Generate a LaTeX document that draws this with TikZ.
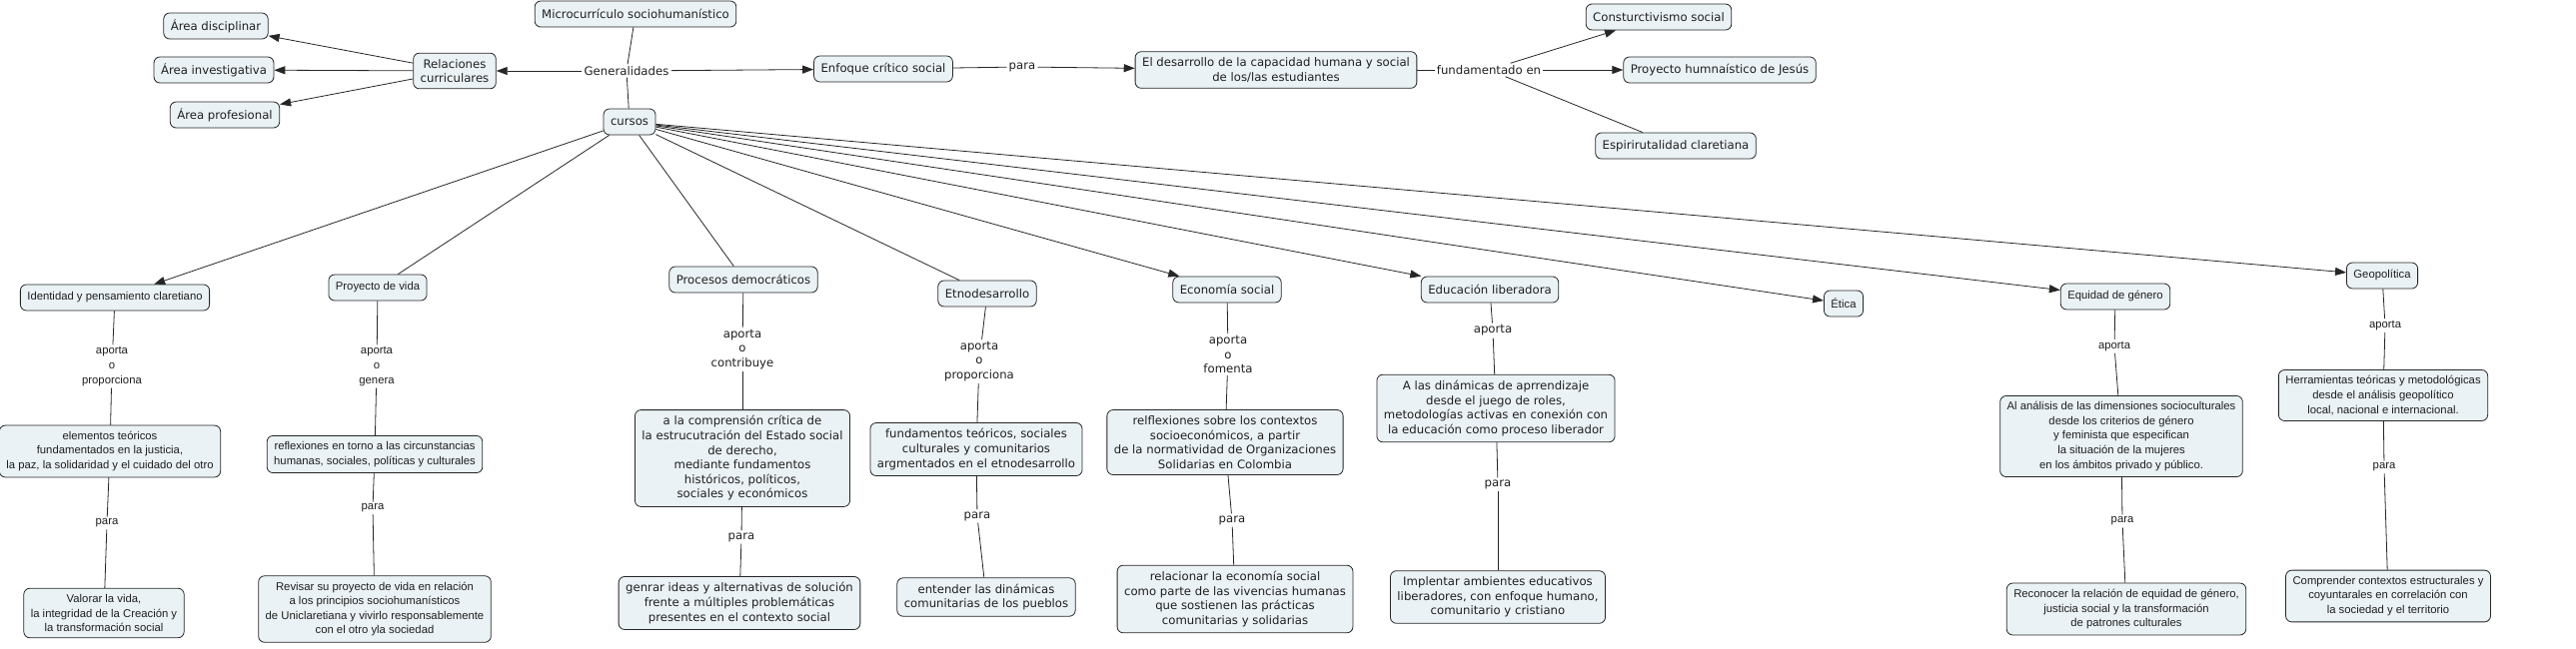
\documentclass[tikz,border=0pt]{standalone}
\usepackage{fontspec}
\setmainfont{DejaVu Sans}
\newfontfamily\angostafont{Liberation Sans}
\usetikzlibrary{arrows.meta}

\definecolor{fondo}{RGB}{235,242,245}

\tikzset{
  concepto/.style={draw=black!85, fill=fondo, rounded corners=6pt, line width=0.8pt,
    align=center, inner xsep=7pt, inner ysep=6pt, minimum height=26pt,
    text=black!88, font=\fontsize{11.7}{14.6}\selectfont},
  angosto/.style={font=\angostafont\fontsize{11.3}{14.6}\selectfont},
  enlace/.style={align=center, inner sep=2pt, text=black!88,
    font=\fontsize{11.7}{14.6}\selectfont},
  linea/.style={draw=black!85, line width=0.8pt},
  flecha/.style={linea, -{Triangle[length=11pt,width=8pt]}},
}

\begin{document}
\begin{tikzpicture}[x=1pt,y=-1pt]
    % Marco
    \useasboundingbox (0,0) rectangle (2578,649);

    % Parte superior
    \node[concepto] (micro) at (636,14) {Microcurrículo sociohumanístico};
    \node[enlace] (general) at (627,71) {Generalidades};
    \node[concepto] (relaciones) at (455,71) {Relaciones\\curriculares};
    \node[concepto] (disciplinar) at (216,26) {Área disciplinar};
    \node[concepto] (investigativa) at (214,70) {Área investigativa};
    \node[concepto] (profesional) at (225,115) {Área profesional};
    \node[concepto] (enfoque) at (884,69) {Enfoque crítico social};
    \node[enlace] (para0) at (1023,67) {para};
    \node[concepto] (desarrollo) at (1277,70) {El desarrollo de la capacidad humana y social\\de los/las estudiantes};
    \node[enlace] (fundamentado) at (1490,70) {fundamentado en};
    \node[concepto] (constru) at (1660,17) {Consturctivismo social};
    \node[concepto] (jesus) at (1721,70) {Proyecto humnaístico de Jesús};
    \node[concepto] (espiritualidad) at (1677,146) {Espirirutalidad claretiana};
    \node[concepto] (cursos) at (630,122) {cursos};

    % Cursos
    \node[concepto, angosto] (identidad) at (115,298) {Identidad y pensamiento claretiano};
    \node[concepto, angosto] (vida) at (378,288) {Proyecto de vida};
    \node[concepto] (procesos) at (744,280) {Procesos democráticos};
    \node[concepto] (etno) at (988,294) {Etnodesarrollo};
    \node[concepto] (economia) at (1228,290) {Economía social};
    \node[concepto] (educacion) at (1491,290) {Educación liberadora};
    \node[concepto, angosto] (etica) at (1845,304) {Ética};
    \node[concepto, angosto] (equidad) at (2117,297) {Equidad de género};
    \node[concepto, angosto] (geo) at (2384,276) {Geopolítica};

    % Columna 1
    \node[enlace, angosto] (ap1) at (112,367) {aporta\\o\\proporciona};
    \node[concepto, angosto] (elementos) at (110,452) {elementos teóricos\\fundamentados en la justicia,\\la paz, la solidaridad y el cuidado del otro};
    \node[enlace, angosto] (pa1) at (107,524) {para};
    \node[concepto, angosto] (valorar) at (104,614) {Valorar la vida,\\la integridad de la Creación y\\la transformación social};

    % Columna 2
    \node[enlace, angosto] (ap2) at (377,367) {aporta\\o\\genera};
    \node[concepto, angosto] (reflexiones) at (375,455) {reflexiones en torno a las circunstancias\\humanas, sociales, políticas y culturales};
    \node[enlace, angosto] (pa2) at (373,509) {para};
    \node[concepto, angosto] (revisar) at (375,610) {Revisar su proyecto de vida en relación\\a los principios sociohumanísticos\\de Uniclaretiana y vivirlo responsablemente\\con el otro yla sociedad};

    % Columna 3
    \node[enlace] (ap3) at (743,350) {aporta\\o\\contribuye};
    \node[concepto] (comprension) at (743,459) {a la comprensión crítica de\\la estrucutración del Estado social\\de derecho,\\mediante fundamentos\\históricos, políticos,\\sociales y económicos};
    \node[enlace] (pa3) at (742,538) {para};
    \node[concepto] (genrar) at (740,604) {genrar ideas y alternativas de solución\\frente a múltiples problemáticas\\presentes en el contexto social};

    % Columna 4
    \node[enlace] (ap4) at (980,362) {aporta\\o\\proporciona};
    \node[concepto] (fundamentos) at (977,450) {fundamentos teóricos, sociales\\culturales y comunitarios\\argmentados en el etnodesarrollo};
    \node[enlace] (pa4) at (978,517) {para};
    \node[concepto] (entender) at (987,598) {entender las dinámicas\\comunitarias de los pueblos};

    % Columna 5
    \node[enlace] (ap5) at (1229,355) {aporta\\o\\fomenta};
    \node[concepto] (relflexiones) at (1226,443) {relflexiones sobre los contextos\\socioeconómicos, a partir\\de la normatividad de Organizaciones\\Solidarias en Colombia};
    \node[enlace] (pa5) at (1233,521) {para};
    \node[concepto] (relacionar) at (1236,600) {relacionar la economía social\\como parte de las vivencias humanas\\que sostienen las prácticas\\comunitarias y solidarias};

    % Columna 6
    \node[enlace] (ap6) at (1494,331) {aporta};
    \node[concepto] (dinamicas) at (1497,409) {A las dinámicas de aprrendizaje\\desde el juego de roles,\\metodologías activas en conexión con\\la educación como proceso liberador};
    \node[enlace] (pa6) at (1499,485) {para};
    \node[concepto] (implentar) at (1499,598) {Implentar ambientes educativos\\liberadores, con enfoque humano,\\comunitario y cristiano};

    % Columna 7
    \node[enlace, angosto] (ap7) at (2116,347) {aporta};
    \node[concepto, angosto] (analisis) at (2123,437) {Al análisis de las dimensiones socioculturales\\desde los criterios de género\\y feminista que especifican\\la situación de la mujeres\\en los ámbitos privado y público.};
    \node[enlace, angosto] (pa7) at (2124,522) {para};
    \node[concepto, angosto] (reconocer) at (2128,610) {Reconocer la relación de equidad de género,\\justicia social y la transformación\\de patrones culturales};

    % Columna 8
    \node[enlace, angosto] (ap8) at (2387,326) {aporta};
    \node[concepto, angosto] (herramientas) at (2385,396) {Herramientas teóricas y metodológicas\\desde el análisis geopolítico\\local, nacional e internacional.};
    \node[enlace, angosto] (pa8) at (2386,468) {para};
    \node[concepto, angosto] (comprender) at (2390,597) {Comprender contextos estructurales y\\coyuntarales en correlación con\\la sociedad y el territorio};

    % Conexiones superiores
    \draw[linea] (micro) -- (general);
    \draw[linea] (general) -- (cursos);
    \draw[flecha] (general) -- (relaciones);
    \draw[flecha] (general) -- (enfoque);
    \foreach \area in {disciplinar, investigativa, profesional}
        \draw[flecha] (relaciones) -- (\area);
    \draw[linea] (enfoque) -- (para0);
    \draw[flecha] (para0) -- (desarrollo);
    \draw[linea] (desarrollo) -- (fundamentado);
    \draw[flecha] (fundamentado) -- (constru);
    \draw[flecha] (fundamentado) -- (jesus);
    \draw[linea] (fundamentado) -- (espiritualidad);

    % Desde cursos
    \foreach \destino in {vida, procesos, etno}
        \draw[linea] (cursos) -- (\destino);
    \foreach \destino in {identidad, economia, educacion, etica, equidad, geo}
        \draw[flecha] (cursos) -- (\destino);

    % Columnas
    \foreach \ca/\la/\cb/\lb/\cc in {identidad/ap1/elementos/pa1/valorar,
        vida/ap2/reflexiones/pa2/revisar, procesos/ap3/comprension/pa3/genrar,
        etno/ap4/fundamentos/pa4/entender, economia/ap5/relflexiones/pa5/relacionar,
        educacion/ap6/dinamicas/pa6/implentar, equidad/ap7/analisis/pa7/reconocer,
        geo/ap8/herramientas/pa8/comprender} {
        \draw[linea] (\ca) -- (\la);
        \draw[linea] (\la) -- (\cb);
        \draw[linea] (\cb) -- (\lb);
        \draw[linea] (\lb) -- (\cc);
    }
\end{tikzpicture}
\end{document}
